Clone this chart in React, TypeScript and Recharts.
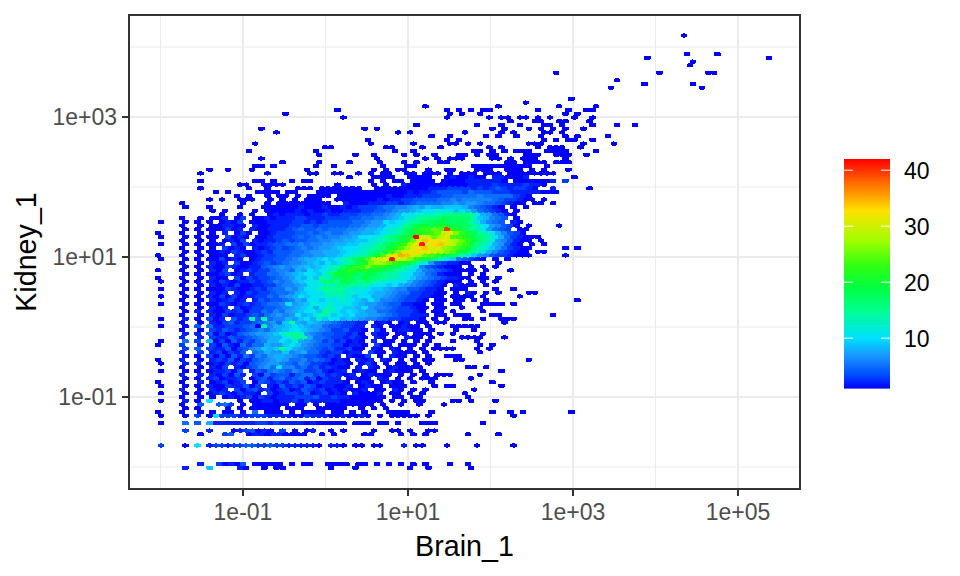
import React from 'react';
import { ScatterChart, Scatter, XAxis, YAxis, CartesianGrid, ReferenceArea, Customized } from 'recharts';

// Bin layout (log10 units)
const xOrigin = -1.994;
const yOrigin = -2.012;
const xBinWidth = 0.0737;
const yRowStep = 0.05324;

const xMajor = [-1, 1, 3, 5];
const xMinor = [-2, 0, 2, 4];
const yMajor = [-1, 1, 3];
const yMinor = [-2, 0, 2, 4];
const xDomain = [-2.382, 5.752];
const yDomain = [-2.314, 4.457];

const legendTicks = [10, 20, 30, 40];
const legendRange = [1, 42];
const colorStops: [number, string][] = [
  [1, '#0000ff'], [3.6, '#0050ff'], [6.6, '#1a90ff'], [10, '#00e0ff'], [14.9, '#00ff90'],
  [19, '#00ff40'], [23, '#30ff10'], [27.4, '#a0ff00'], [32.8, '#ffe000'], [37.5, '#ff7000'], [42, '#ff0000'],
];

// Counts per hexagon. Position in the list = row from the bottom, position in the string = column.
const countAlphabet = '.123456789abcdefghijklmnopqrstuvwxyzABCDEFG';
const lowerRows = [
  '....2...9. ...21..1.1 1.......1. ..1....... .1..1..... .1........',
  '......2..3 1214.11111 .1.11..111 1.11.1.1.1 .1.1...1.. 1.........',
  '', '', '', '',
  '3...1.a.23 3233443343 3222221.22 1.11.11... 2.11...1.. ..1.....1.',
  '', '',
  '......1... 34..122122 1111..1.1. ...11....1 .1.1...... 1....1....',
  '....3...2. ..1234121. 3.1.12..1. 1....1..11 .1..11....',
  '',
  '1...5.4.82 2222223323 2222121111 1.111.11.1 ...111.... ...1......',
  '',
  '1...1.3.1a 3332233322 2211322211 21121.1.11 111.1..... ........1.',
  '...1..1.1. 11.1.5.111 .1.1111.11 .1.1...111 1...1..... ....1..1.1 .......1..',
  '....1.1... .1.1.11111 .111..1111 1..1.1.1..',
  '...1..4..4 53.1.11111 1.11.1.111 11111.1..1 ..1...1...',
  '1...2.1.a. ...1.11221 2231322222 1111111.1. 1.11....11 .1...1....',
  '...1..1.1. 1212313212 2233342232 2111111.11 .11....... 1.........',
];
const midRows = [
  '1...1.1.12 3213221.31 2332412312 1.21112.11 .1.1...... 1.........',
  '...2..1.21 2.31342312 3124323121 2112.11.21 .1.1...... .1........',
  '1...1.1.21 1322413.21 4232431221 12.1211.11 1....1.11. ......1...',
  '...1..2.12 3123.14323 2434123222 1.121.1211 .1..1..... ....1.....',
  '....1.1.23 1223.13424 5345241322 .1211.21.1 .1.111.... .1........',
  '...2..2.21 3142.31534 4245534232 12.12111.1 .1.1.111.. ..1.......',
  '1...1.1.12 2314.24356 5465334212 2.1211.121 11.1...... ......1...',
  '...1..1.21 3.2134675a 6645342321 1.2.21.121 111....... 11.1......',
  '1...2.2.12 1323145677 6546533212 21.131.1.1 1.1.1.....',
  '...2..1.23 2413245678 7556454312 1.212.21.1 .1.11...11 .......... 1.',
  '....1.1.31 3142536578 8765443232 .2113.1.21 1.1.1..111',
  '...2..3.23 1324.56877 9678553233 122.311.21 11.1...... ..1.......',
  '....3.4.32 2413467989 fa87654342 2311.21.21 .1.1.1111. ..1.1.....',
  '...3..2.31 4215355877 9b97654433 1221.311.1 11.1.1.... ..1.1.....',
  '1...5.3.81 3142435688 a9c8765342 3121.2.11. 1.1.1...1. ..1.......',
  '...2..2.32 2433456788 bdfe855433 2321.21.1. 211.1....1 111...1...',
  '....2.2.41 3124567789 cefd765443 3231.211.1 1.111.1.1. ...1......',
  '...1..1.32 4323456578 9aa9876533 4221.31.12 211.1...1. .1........',
  '1...1.4.52 2333451e68 89a9877544 3322.21.11 211.1...11 111.......',
  '...1..1.21 3423345675 9e87987654 3322.121.1 2.11.11... ......1...',
];
const coreRows = [
  '1...2.1.31 2.423e4e56 6879a8c9ba 8987665433 2221.1.1.. 11.1..111.',
  '...1..1.21 3122343567 67a89bec9a 9a88776543 3222.11.11 1...11.... ....1.....',
  '....1.2.21 1323133546 5789ab9fdb 9a98775543 3321.11.1. ...1......',
  '...1..1.21 2.31233445 6789a8bdca 998a766543 3211.11..1 ..1.......',
  '1...1.1.11 3212323455 6a789cbada bb98776544 2211.11.11 ...1111.1.',
  '...1..1.21 2312.24344 5687aa9bbc ca98a86654 3321.11.11 .1.1...... ........1.',
  '1...1.1.21 3131223354 678a9bbcdc db9ba88765 4332211.11 11.1.....1',
  '...1..1.21 2.21323345 5689aabedf cdaa988765 5332211.1. 21.1.1.... 11',
  '1...1.1.11 1321123245 5768abdfef ecbca99876 6443221.11 1....1..1.',
  '...1..1.21 2131122335 6678bacedg gfdecba9a8 7654321.21 11.1......',
  '1...1.1.21 3212232346 5689abdghf ihgfhedcba a865432111 .1.1.1....',
  '...1..1.21 1.31323345 6798b9fchh kigjhgfedc b976543221 1.11.1....',
  '....1.1.11 2312.23355 6789aa9cgk jkihjigfed ba87542111 .1.1......',
  '...1..1.21 3.12323356 6587a9bcei lmkljkihfe ca86543211 11.1...1..',
  '....1.1.21 1321122456 7678989ade hjmnqnmlji fda6432111 .1.1.1....',
  '...1..1.21 2.31123434 5667898a9b dfikqsrpnl khdb743221 1....1....',
  '1...1.1.11 3121.12334 4567889a9b dfhkosuwFu tqnkihea95 4321.1.1..',
  '...1..1.11 1.23112334 4556677889 acdehjosxz yuspomkihe c976433211 1.....1...',
  '....1.1.11 2132112324 4455677888 9abceghknq uvxwvusqok jgdb864321 1.11......',
  '...1..1.1. 3121.21234 3456567789 aabcdfgjlo rvxyuvrqom kgec975321 1.....1.1.',
];
const upperRows = [
  '1...1.1.11 2.31312234 4556566778 899bcdfhjl nrwFvxyusp nkgdb87421 .1.1......',
  '...1..1.1. 1213.21223 4344556677 8899bcdfgi lpuyxvwtrp mjhfc76421 1.1.......',
  '1...1.1.11 .3121.1123 3345456566 778aabcegh jlGutpsvon lkhgdb8532 111.......',
  '...1..1.1. 2.131.1123 3344545655 677889acdf hjlmnptwqn kifdb86431 ..........',
  '....1.1.11 1312.21122 2345445455 5667889bcd gikmnpoEmk hfda7543.1 1.........',
  '...1..1.11 2211.21122 2334434444 4556778abc fhjkikljii hfca76431. 1....1....',
  '1...1.1.1. 1213.11122 2233232344 4455677a9a cefghijihi hfb8654.21',
  '...1..1.11 2.13.11212 2233222333 3445566789 bcefggihhh hd98654.1.',
  '.......... 1..1.1..12 1222122322 3334455678 abcdcdefgg gfb875421.',
  '........1. 1....1.111 1121211211 2223344567 789aacbb9a 9754321.1.',
  '....1...1. ...1...111 1112111211 2123334556 6787988999 8654321.1. 1.........',
  '...1...... ...1...1.1 11111111.. 2111222332 3455556676 7765543211 .11.1.....',
  '........1. 1..111..1. 1.1.111..1 1111112122 3344445565 6666654332 11.1......',
  '.......... ..1.1..1.1 1.1.1111.1 1111111211 2223334455 5565555532 1.........',
  '.........1 .1....1111 .11...1111 1111111111 1212234444 3544433322 222111....',
  '......1... ....1..1.. ..111.1111 111..11111 1111222333 3232343233 21..2..... 1.........',
  '.......... ...11..111 1........1 .....1.1.. 2111111111 1222232222 3221......',
  '......1... .....11.1. .1.11..... ....1.1.11 .1111.1111 2222221.11 11112.3...',
  '.......... .......... .......... .1...1111. .1111..121 1211.22111 2....... 1.',
];
const outlierRows: [number, number[]][] = [
  [116, [86]], [111, [86, 91]], [110, [80, 100]], [109, [87]], [108, [87]],
  [106, [65, 82, 90, 91]], [104, [75]], [103, [79, 87]], [102, [74, 89]], [99, [67]], [98, [60]],
  [97, [43, 55, 65, 71]], [96, [29, 47, 49, 51, 53, 54, 62, 67, 70, 71]], [95, [20, 47, 49, 52, 66, 68]],
  [94, [30, 47, 54, 56, 57, 59, 60, 62, 64, 68, 71]], [93, [57, 61, 62, 65, 66, 70]],
  [92, [42, 52, 56, 59, 63, 64, 66, 71, 75, 78]], [91, [16, 33, 35, 54, 56, 60, 62, 64, 66, 69]],
  [90, [19, 39, 41, 50, 56, 58, 63, 64, 66]], [89, [44, 47, 53, 55, 58, 62, 66, 68, 73]],
  [88, [34, 47, 49, 63, 65, 67, 68, 71]], [87, [15, 34, 41, 47, 48, 50, 52, 60, 61, 62, 69, 74]],
  [86, [27, 28, 37, 38, 43, 46, 54, 56, 62, 64, 65, 66, 69]],
  [85, [14, 25, 38, 41, 51, 52, 54, 56, 58, 59, 60, 63, 64, 65, 66, 71]],
  [84, [26, 32, 35, 40, 42, 45, 49, 50, 52, 54, 55, 60, 61, 62, 65, 66, 67, 70]],
  [83, [16, 35, 43, 45, 47, 48, 49, 54, 55, 57, 59, 60, 61, 66]],
  [82, [20, 26, 31, 36, 40, 42, 46, 47, 57, 58, 60, 61, 62, 63, 65, 66, 67]],
  [81, [15, 16, 18, 25, 28, 36, 40, 41, 51, 52, 53, 54, 55, 56, 57, 58, 59, 60, 63]],
  [80, [8, 11, 15, 24, 35, 37, 39, 40, 44, 47, 48, 52, 53, 54, 57, 58, 59, 61, 63, 67]],
  [79, [6, 17, 24, 25, 28, 29, 32, 34, 36, 37, 40, 41, 43, 44, 45, 47, 49, 50, 51, 53, 54, 55, 57, 58, 59, 60, 61, 62, 63, 64]],
];
// Cells just left of column 0 on the offset rows
const edgeRows = [63, 57, 53, 51, 33, 29, 23, 15];

const denseRows = [...lowerRows, ...midRows, ...coreRows, ...upperRows];
type Cell = { x: number; y: number; n: number };
const cellAt = (k: number, col: number, n: number): Cell => ({
  x: xOrigin + (col + (k % 2 ? 0.5 : 0)) * xBinWidth,
  y: yOrigin + k * yRowStep,
  n,
});
const cells: Cell[] = [];
denseRows.forEach((row, k) => {
  row.replace(/ /g, '').split('').forEach((ch, col) => {
    const n = countAlphabet.indexOf(ch);
    if (n > 0) cells.push(cellAt(k, col, n));
  });
});
outlierRows.forEach(([k, cols]) => cols.forEach((c) => cells.push(cellAt(k, c, 1))));
edgeRows.forEach((k) => cells.push(cellAt(k, -1, 1)));

const hex = (c: string) => [1, 3, 5].map((i) => parseInt(c.slice(i, i + 2), 16));
const colorOf = (n: number) => {
  for (let i = 1; i < colorStops.length; i++) {
    const [v1, c1] = colorStops[i];
    const [v0, c0] = colorStops[i - 1];
    if (n <= v1) {
      const t = (n - v0) / (v1 - v0);
      const a = hex(c0);
      const b = hex(c1);
      return `rgb(${a.map((p, j) => Math.round(p + (b[j] - p) * t)).join(',')})`;
    }
  }
  return colorStops[colorStops.length - 1][1];
};

const hexW = 6.4;
const HexShape = (props: any) => {
  const cx = props.cx ?? props.x + (props.width ?? 0) / 2;
  const cy = props.cy ?? props.y + (props.height ?? 0) / 2;
  const n = props.n ?? props.payload?.n ?? 1;
  const hw = hexW / 2;
  const s = 2.2;
  const sh = 1.6;
  const d = `M${cx},${cy - s}L${cx + hw},${cy - sh}L${cx + hw},${cy + sh}L${cx},${cy + s}L${cx - hw},${cy + sh}L${cx - hw},${cy - sh}Z`;
  return <path d={d} fill={colorOf(n)} shapeRendering="crispEdges" />;
};

const fmt = (v: number) => `1e${v < 0 ? '-' : '+'}${String(Math.abs(v)).padStart(2, '0')}`;

const FONT = '"Liberation Sans", Arial, sans-serif';

const ColourBar = () => {
  const left = 844;
  const w = 46;
  const top = 159;
  const unit = 5.6;
  const [lo, hi] = legendRange;
  const h = (hi - lo) * unit;
  const yOf = (v: number) => top + (hi - v) * unit;
  return (
    <g>
      <defs>
        <linearGradient id="bar" x1="0" y1="1" x2="0" y2="0">
          {colorStops.map(([v, c]) => (
            <stop key={v} offset={(v - lo) / (hi - lo)} stopColor={c} />
          ))}
        </linearGradient>
      </defs>
      <rect x={left} y={top} width={w} height={h} fill="url(#bar)" />
      {legendTicks.map((t) => (
        <g key={t}>
          <line x1={left} x2={left + 9} y1={yOf(t)} y2={yOf(t)} stroke="#fff" strokeWidth={1} />
          <line x1={left + w - 9} x2={left + w} y1={yOf(t)} y2={yOf(t)} stroke="#fff" strokeWidth={1} />
          <text x={904} y={yOf(t) + 9} fontFamily={FONT} fontSize={23} fill="#000">{t}</text>
        </g>
      ))}
    </g>
  );
};

export default function App() {
  const tickStyle = { fontFamily: FONT, fontSize: 23, fill: '#4d4d4d' };
  return (
    <div style={{ position: 'absolute', left: 0, top: 0, background: '#fff' }}>
      <ScatterChart width={960} height={576} margin={{ left: 69, right: 160, top: 15, bottom: 37 }}>
        <CartesianGrid stroke="#ebebeb" strokeWidth={1} verticalValues={xMinor} horizontalValues={yMinor} syncWithTicks={false} />
        <CartesianGrid stroke="#ebebeb" strokeWidth={2} verticalValues={xMajor} horizontalValues={yMajor} syncWithTicks={false} />
        <XAxis
          type="number"
          dataKey="x"
          domain={xDomain}
          allowDataOverflow
          ticks={xMajor}
          tickFormatter={fmt}
          axisLine={false}
          tickSize={7}
          tickMargin={8}
          tickLine={{ stroke: '#333', strokeWidth: 2 }}
          tick={tickStyle}
          height={50}
          interval={0}
          label={{ value: 'Brain_1', position: 'bottom', offset: -3, style: { fontFamily: FONT, fontSize: 28.7, fill: '#000' } }}
        />
        <YAxis
          type="number"
          dataKey="y"
          domain={yDomain}
          allowDataOverflow
          ticks={yMajor}
          tickFormatter={fmt}
          axisLine={false}
          tickSize={7}
          tickMargin={5}
          tickLine={{ stroke: '#333', strokeWidth: 2 }}
          tick={tickStyle}
          width={60}
          interval={0}
          label={{ value: 'Kidney_1', angle: -90, position: 'left', offset: 43, style: { fontFamily: FONT, fontSize: 28.7, fill: '#000', textAnchor: 'middle' } }}
        />
        <Scatter data={cells} isAnimationActive={false} shape={HexShape} />
        <ReferenceArea x1={xDomain[0]} x2={xDomain[1]} y1={yDomain[0]} y2={yDomain[1]} fill="none" stroke="#333" strokeWidth={2} ifOverflow="visible" />
        <Customized component={ColourBar} />
      </ScatterChart>
    </div>
  );
}
